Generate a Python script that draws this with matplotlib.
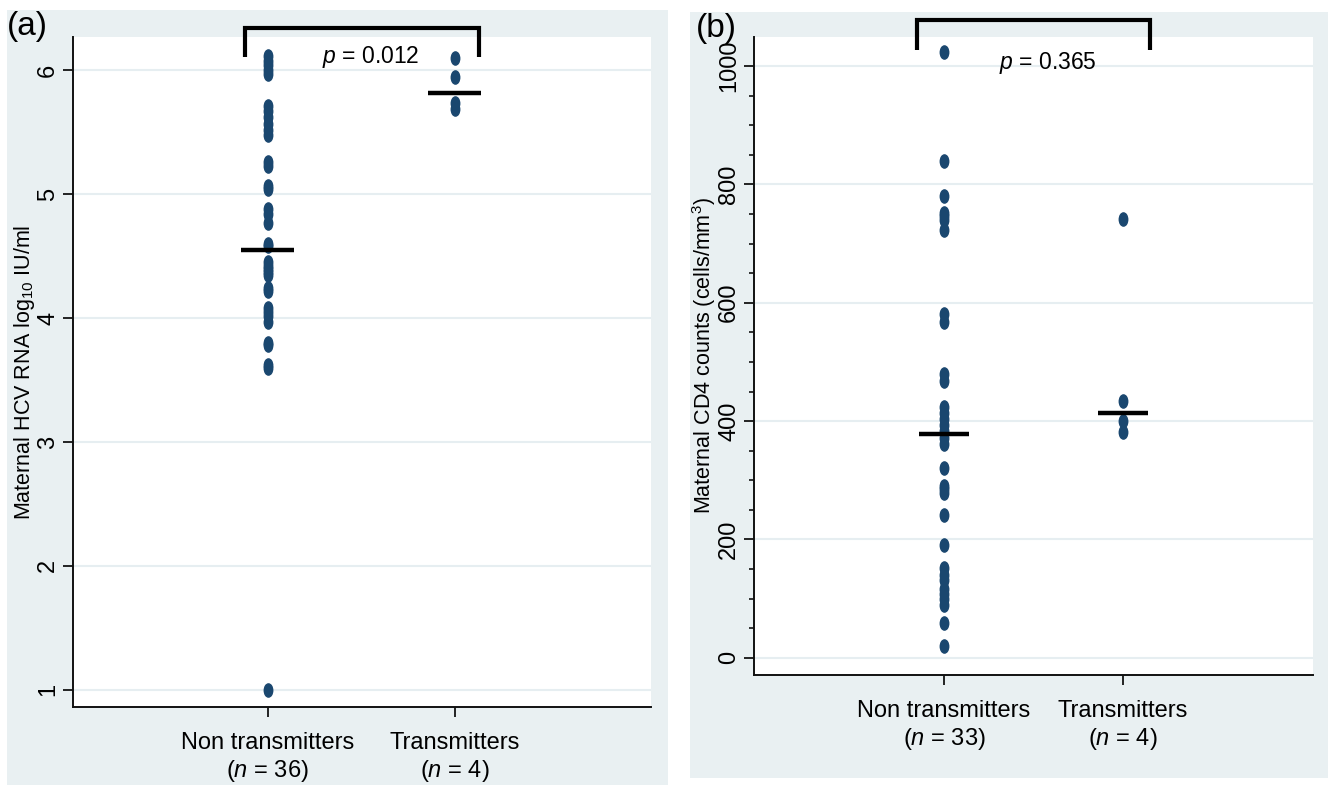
import matplotlib
matplotlib.use("Agg")
import matplotlib.pyplot as plt
from matplotlib.path import Path
from matplotlib.patches import Rectangle
from matplotlib.ticker import MultipleLocator

plt.rcParams['font.family'] = ['Liberation Sans', 'DejaVu Sans']
plt.rcParams['mathtext.fontset'] = 'custom'
plt.rcParams['mathtext.rm'] = 'Liberation Sans'
plt.rcParams['mathtext.it'] = 'Liberation Sans:italic'

# ---------------- data ----------------
groups = ["Non transmitters", "Transmitters"]

a_n = [36, 4]
a_non = [6.12, 6.08, 6.04, 6.00, 5.97,
         5.71, 5.67, 5.62, 5.57, 5.52, 5.48,
         5.26, 5.23, 5.07, 5.04, 4.88, 4.84, 4.77,
         4.60, 4.58, 4.45, 4.42, 4.40, 4.37, 4.35,
         4.24, 4.22, 4.08, 4.05, 4.02, 3.97,
         3.80, 3.78, 3.62, 3.60, 1.00]
a_trans = [6.10, 5.95, 5.74, 5.69]
a_median = [4.55, 5.82]
a_p = "0.012"

b_n = [33, 4]
b_non = [1023, 840, 780, 752, 746, 740, 723, 581, 567, 479, 468,
         424, 414, 404, 394, 384, 372, 362,
         320, 290, 285, 279, 241, 190, 151, 140, 131, 117, 108,
         100, 89, 59, 20]
b_trans = [742, 434, 401, 381]
b_median = [378, 414]
b_p = "0.365"

a_yticks = [1, 2, 3, 4, 5, 6]
b_yticks = [0, 200, 400, 600, 800, 1000]

# ---------------- style ----------------
W, H = 1334, 785
BG = "#e9f0f2"
DOT = "#1a476f"
GRID = "#e6eef1"

circ = Path.unit_circle()
ell = Path(circ.vertices * [0.64, 1.0], circ.codes)

fig = plt.figure(figsize=(W / 100, H / 100), dpi=100)
fig.patch.set_facecolor("white")

def fx(px):
    return px / W

def fy(py):
    return 1 - py / H

fig.patches.append(Rectangle((fx(7), fy(785)), fx(668) - fx(7), fy(10) - fy(785),
                             transform=fig.transFigure, facecolor=BG, edgecolor="none", zorder=-10))
fig.patches.append(Rectangle((fx(690), fy(778)), fx(1328) - fx(690), fy(12) - fy(778),
                             transform=fig.transFigure, facecolor=BG, edgecolor="none", zorder=-10))

axA = fig.add_axes([fx(73), fy(707), fx(651) - fx(73), fy(37) - fy(707)])
axB = fig.add_axes([fx(754), fy(675), fx(1313) - fx(754), fy(37) - fy(675)])


def style(ax, yticks, ylim, xlim, n, ylabel, minor=None):
    ax.set_facecolor("white")
    ax.set_xlim(*xlim)
    ax.set_ylim(*ylim)
    for s in ["top", "right"]:
        ax.spines[s].set_visible(False)
    for s in ["left", "bottom"]:
        ax.spines[s].set_linewidth(1.4)
        ax.spines[s].set_color("#111111")
    ax.set_yticks(yticks)
    ax.set_yticklabels([str(t) for t in yticks], rotation=90, va="center")
    if minor:
        ax.yaxis.set_minor_locator(MultipleLocator(minor))
        ax.tick_params(axis="y", which="minor", length=3.5, width=1.1)
    ax.set_xticks([1, 2])
    ax.set_xticklabels([f"{g}\n($\\mathit{{n}}$ = {k})" for g, k in zip(groups, n)],
                       fontsize=17, linespacing=1.22)
    ax.tick_params(axis="y", which="major", length=7, width=1.2, labelsize=17, pad=3)
    ax.tick_params(axis="x", length=7, width=1.2, pad=11)
    ax.grid(axis="y", color=GRID, linewidth=1.5)
    ax.set_axisbelow(True)
    ax.set_ylabel(ylabel, fontsize=15.5, labelpad=0)


style(axA, a_yticks, (0.86, 6.27), (-0.04, 3.05), a_n,
      "Maternal HCV RNA log$_{10}$ IU/ml")
style(axB, b_yticks, (-29, 1049), (-0.06, 3.06), b_n,
      "Maternal CD4 counts (cells/mm$^3$)", minor=50)

for ax, non, tr, med in [(axA, a_non, a_trans, a_median), (axB, b_non, b_trans, b_median)]:
    ax.plot([1] * len(non), non, linestyle="none", marker=ell, ms=9.5,
            color=DOT, mec=DOT, zorder=3, clip_on=False)
    ax.plot([2] * len(tr), tr, linestyle="none", marker=ell, ms=9.5,
            color=DOT, mec=DOT, zorder=3, clip_on=False)
    ax.hlines(med, [0.86, 1.86], [1.14, 2.14], color="black", linewidth=3.2, zorder=4)

# brackets and p-values
axA.plot([0.877, 0.877, 2.128, 2.128], [6.11, 6.34, 6.34, 6.11], color="black",
         linewidth=3, clip_on=False, solid_joinstyle="miter", solid_capstyle="butt")
axA.text(1.55, 6.105, f"$\\mathit{{p}}$ = {a_p}", fontsize=16.5, ha="center", va="center")

axB.plot([0.85, 0.85, 2.15, 2.15], [1027, 1078, 1078, 1027], color="black",
         linewidth=3, clip_on=False, solid_joinstyle="miter", solid_capstyle="butt")
axB.text(1.58, 1005, f"$\\mathit{{p}}$ = {b_p}", fontsize=16.5, ha="center", va="center")

fig.text(fx(7), fy(27), "(a)", fontsize=24, ha="left", va="center")
fig.text(fx(696), fy(28), "(b)", fontsize=24, ha="left", va="center")

fig.savefig("out.png", dpi=100)
